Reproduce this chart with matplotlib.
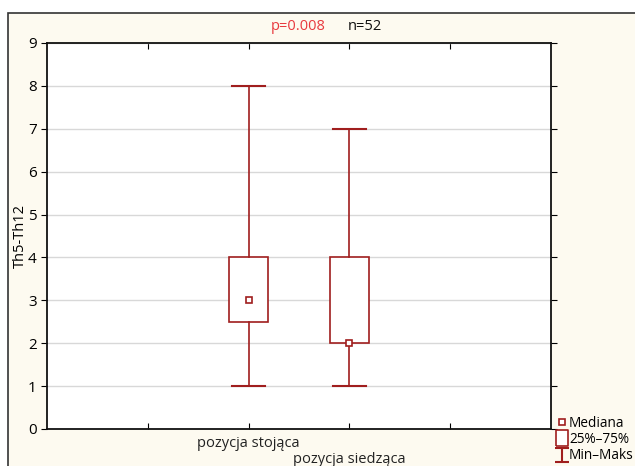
import matplotlib.pyplot as plt
from matplotlib.patches import Rectangle
from matplotlib.lines import Line2D
from matplotlib.path import Path

groups = ['pozycja stojąca', 'pozycja siedząca']
positions = [2, 3]
mins = [1, 1]
q1 = [2.5, 2]
medians = [3, 2]
q3 = [4, 4]
maxs = [8, 7]

red = '#A01E1E'
cream = '#FDFAF0'

plt.rcParams['font.family'] = ['Open Sans', 'DejaVu Sans']
fig = plt.figure(figsize=(6.35, 4.66), dpi=100)
fig.patch.set_facecolor('white')
# cream panel with frame (right/bottom edges run off the picture)
fig.patches.append(Rectangle((8 / 635, -0.1), 1.2, 1.1 - 13 / 466, transform=fig.transFigure,
                             facecolor=cream, edgecolor='#333333', lw=1.2, zorder=-10))

ax = fig.add_axes([47 / 635, 1 - 429 / 466, (551 - 47) / 635, (429 - 43) / 466])
ax.set_facecolor('white')
ax.set_xlim(0, 5)
ax.set_ylim(0, 9)
ax.set_yticks(range(10))
ax.grid(axis='y', color='#D8D8D8', lw=1)
ax.set_axisbelow(True)

bw = 0.39
cw = 0.32
for x, lo, a, m, b, hi in zip(positions, mins, q1, medians, q3, maxs):
    ax.add_patch(Rectangle((x - bw / 2, a), bw, b - a, facecolor='white', edgecolor=red, lw=1.2, zorder=3))
    ax.plot([x, x], [lo, a], color=red, lw=1.2, zorder=3)
    ax.plot([x, x], [b, hi], color=red, lw=1.2, zorder=3)
    ax.plot([x - cw / 2, x + cw / 2], [lo, lo], color=red, lw=1.5, zorder=3)
    ax.plot([x - cw / 2, x + cw / 2], [hi, hi], color=red, lw=1.5, zorder=3)
    ax.plot([x], [m], marker='s', ms=5, mfc='white', mec=red, mew=1.2, zorder=4)

ax.set_xticks([1, 2, 3, 4])
ax.set_xticklabels(['', '', '', ''])
for i, (x, g) in enumerate(zip(positions, groups)):
    ax.text(x, -0.17 - 0.37 * i, g, ha='center', va='top', fontsize=10.5, color='#222222')
ax.tick_params(axis='x', direction='in', top=True, length=4)
ax.tick_params(axis='y', direction='out', right=True, length=4, labelsize=11)
for s in ax.spines.values():
    s.set_linewidth(1.3)
    s.set_color('#111111')
ax.set_ylabel('Th5-Th12', fontsize=10.5)
ax.yaxis.set_label_coords(-19 / 504, 0.5)

fig.text(298 / 635, 1 - 27 / 466, 'p=0.008', color='#E8393E', ha='center', va='center', fontsize=10.5)
fig.text(365 / 635, 1 - 27 / 466, 'n=52', color='#111111', ha='center', va='center', fontsize=10.5)

minmax = Path([(-1, 1), (1, 1), (0, 1), (0, -1), (-1, -1), (1, -1)],
              [Path.MOVETO, Path.LINETO, Path.MOVETO, Path.LINETO, Path.MOVETO, Path.LINETO])
box = Path([(-0.75, -1), (0.75, -1), (0.75, 1), (-0.75, 1), (-0.75, -1)])
handles = [
    Line2D([], [], ls='none', marker='s', ms=5, mfc='white', mec=red, mew=1.2),
    Line2D([], [], ls='none', marker=box, ms=11, mfc='white', mec=red, mew=1.2),
    Line2D([], [], ls='none', marker=minmax, ms=10, mfc='none', mec=red, mew=1.5),
]
fig.legend(handles, ['Mediana', '25%–75%', 'Min–Maks'], loc='lower left',
           bbox_to_anchor=(548 / 635, -7 / 466), frameon=False, fontsize=9.8,
           handlelength=0.6, handletextpad=0.25, labelspacing=0.1, borderpad=0.2)

fig.savefig('out.png', dpi=100, facecolor=fig.get_facecolor())
